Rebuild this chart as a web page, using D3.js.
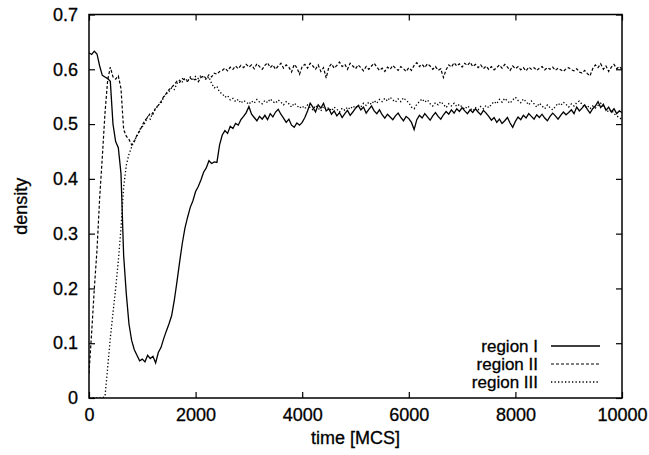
<!doctype html>
<html>
  <head>
    <script src="https://cdn.jsdelivr.net/npm/d3@7/dist/d3.min.js"></script>
    <style>
      body { margin: 0; background: #fff; }
      text { font-family: "Liberation Sans", Arial, Helvetica, sans-serif;
             font-size: 18px; fill: #000; stroke: #000; stroke-width: 0.3px; }
      .legend text { font-size: 17px; }
      .axis path { display: none; }
      .axis line { stroke: #000; stroke-width: 1.2; }
    </style>
  </head>
  <body>
    <div id="chart"></div>
    <script>
      // time steps (MCS), one sample every 50
      var step = 50;

      // region I (solid)
      var regionI = [
        0.630, 0.627, 0.633, 0.628, 0.606, 0.589, 0.586, 0.583, 0.578, 0.500,
        0.468, 0.457, 0.410, 0.260, 0.190, 0.135, 0.105, 0.088, 0.078, 0.068,
        0.071, 0.066, 0.078, 0.072, 0.076, 0.064, 0.083, 0.092, 0.108, 0.122,
        0.135, 0.150, 0.178, 0.212, 0.248, 0.282, 0.310, 0.330, 0.348, 0.360,
        0.377, 0.386, 0.398, 0.412, 0.420, 0.433, 0.428, 0.431, 0.430, 0.462,
        0.480, 0.488, 0.483, 0.496, 0.492, 0.501, 0.498, 0.508, 0.514, 0.521,
        0.532, 0.518, 0.512, 0.506, 0.514, 0.509, 0.516, 0.508, 0.519, 0.513,
        0.522, 0.527, 0.518, 0.511, 0.503, 0.509, 0.498, 0.494, 0.502, 0.498,
        0.503, 0.512, 0.524, 0.538, 0.531, 0.522, 0.535, 0.529, 0.538, 0.524,
        0.528, 0.518, 0.524, 0.515, 0.521, 0.512, 0.519, 0.525, 0.516, 0.522,
        0.529, 0.534, 0.526, 0.531, 0.520, 0.527, 0.533, 0.524, 0.519, 0.526,
        0.517, 0.511, 0.518, 0.513, 0.508, 0.515, 0.520, 0.512, 0.506, 0.514,
        0.510, 0.503, 0.490, 0.508, 0.516, 0.511, 0.519, 0.513, 0.507, 0.515,
        0.521, 0.514, 0.509, 0.517, 0.523, 0.518, 0.526, 0.520, 0.528, 0.523,
        0.530, 0.524, 0.519, 0.526, 0.521, 0.528, 0.522, 0.517, 0.525, 0.520,
        0.514, 0.507, 0.512, 0.503, 0.509, 0.501, 0.506, 0.512, 0.502, 0.494,
        0.505, 0.513, 0.508, 0.516, 0.511, 0.519, 0.514, 0.509, 0.517, 0.512,
        0.518, 0.511, 0.506, 0.514, 0.520, 0.515, 0.509, 0.516, 0.522, 0.517,
        0.521, 0.526, 0.519, 0.531, 0.524, 0.529, 0.535, 0.527, 0.520, 0.528,
        0.533, 0.541, 0.530, 0.536, 0.525, 0.531, 0.522, 0.528, 0.519, 0.524,
        0.521
      ];

      // region II (dashed)
      var regionII = [
        0.045, 0.120, 0.200, 0.270, 0.365, 0.440, 0.520, 0.580, 0.604, 0.586,
        0.582, 0.588, 0.565, 0.490, 0.478, 0.472, 0.462, 0.468, 0.480, 0.487,
        0.498, 0.507, 0.512, 0.520, 0.518, 0.530, 0.534, 0.541, 0.550, 0.556,
        0.563, 0.567, 0.572, 0.578, 0.576, 0.583, 0.580, 0.578, 0.584, 0.580,
        0.582, 0.577, 0.585, 0.588, 0.583, 0.590, 0.586, 0.593, 0.591, 0.596,
        0.598, 0.602, 0.597, 0.604, 0.600, 0.606, 0.601, 0.607, 0.603, 0.609,
        0.604, 0.608, 0.601, 0.610, 0.605, 0.600, 0.607, 0.612, 0.603, 0.608,
        0.600, 0.606, 0.611, 0.602, 0.608, 0.604, 0.595, 0.609, 0.603, 0.591,
        0.605, 0.609, 0.602, 0.611, 0.606, 0.600, 0.608, 0.596, 0.603, 0.584,
        0.604, 0.610, 0.602, 0.607, 0.613, 0.605, 0.609, 0.600, 0.611, 0.606,
        0.601, 0.608, 0.603, 0.597, 0.605, 0.600, 0.606, 0.611, 0.604, 0.598,
        0.602, 0.596, 0.604, 0.600, 0.607, 0.602, 0.598, 0.605, 0.601, 0.596,
        0.603, 0.598, 0.607, 0.612, 0.605, 0.609, 0.603, 0.610, 0.606, 0.600,
        0.605, 0.598, 0.601, 0.585, 0.599, 0.608, 0.604, 0.612, 0.606, 0.610,
        0.604, 0.611, 0.607, 0.613, 0.605, 0.609, 0.603, 0.608, 0.601, 0.606,
        0.600, 0.605, 0.599, 0.603, 0.608, 0.602, 0.609, 0.604, 0.598, 0.606,
        0.601, 0.605, 0.599, 0.603, 0.597, 0.604, 0.600, 0.603, 0.598, 0.602,
        0.605, 0.599, 0.603, 0.600, 0.604, 0.598, 0.602, 0.599, 0.596, 0.601,
        0.603, 0.599, 0.597, 0.601, 0.595, 0.593, 0.598, 0.592, 0.588, 0.601,
        0.608, 0.603, 0.610, 0.600, 0.606, 0.596, 0.604, 0.609, 0.601, 0.605,
        0.600
      ];

      // region III (dotted)
      var regionIII = [
        0.000, 0.000, 0.000, 0.000, 0.000, 0.000, 0.003, 0.055, 0.110, 0.155,
        0.200, 0.250, 0.310, 0.385, 0.425, 0.445, 0.458, 0.470, 0.478, 0.490,
        0.495, 0.502, 0.513, 0.509, 0.522, 0.527, 0.535, 0.538, 0.549, 0.555,
        0.559, 0.566, 0.563, 0.574, 0.580, 0.577, 0.584, 0.578, 0.586, 0.582,
        0.587, 0.583, 0.589, 0.585, 0.581, 0.586, 0.574, 0.566, 0.569, 0.558,
        0.556, 0.549, 0.552, 0.544, 0.547, 0.541, 0.545, 0.538, 0.543, 0.540,
        0.536, 0.542, 0.538, 0.545, 0.540, 0.537, 0.543, 0.539, 0.546, 0.541,
        0.538, 0.544, 0.540, 0.535, 0.541, 0.537, 0.531, 0.538, 0.534, 0.529,
        0.533, 0.528, 0.535, 0.530, 0.526, 0.534, 0.529, 0.524, 0.532, 0.527,
        0.530, 0.524, 0.531, 0.527, 0.522, 0.529, 0.525, 0.531, 0.527, 0.533,
        0.529, 0.535, 0.531, 0.538, 0.534, 0.540, 0.536, 0.543, 0.538, 0.545,
        0.541, 0.547, 0.542, 0.549, 0.544, 0.540, 0.546, 0.541, 0.548, 0.543,
        0.539, 0.531, 0.528, 0.536, 0.541, 0.546, 0.540, 0.544, 0.537, 0.533,
        0.539, 0.535, 0.541, 0.536, 0.530, 0.537, 0.533, 0.538, 0.532, 0.536,
        0.531, 0.527, 0.533, 0.529, 0.524, 0.530, 0.526, 0.532, 0.528, 0.534,
        0.530, 0.536, 0.541, 0.537, 0.545, 0.540, 0.547, 0.542, 0.538, 0.544,
        0.549, 0.543, 0.539, 0.546, 0.541, 0.535, 0.542, 0.537, 0.531, 0.538,
        0.533, 0.528, 0.535, 0.530, 0.526, 0.532, 0.538, 0.534, 0.540, 0.536,
        0.531, 0.537, 0.533, 0.539, 0.542, 0.536, 0.530, 0.534, 0.528, 0.533,
        0.529, 0.534, 0.538, 0.532, 0.527, 0.522, 0.526, 0.519, 0.515, 0.512,
        0.508
      ];

      var seriesNames = ["region I", "region II", "region III"];
      var xTicks = [0, 2000, 4000, 6000, 8000, 10000];
      var yTicks = [0, 0.1, 0.2, 0.3, 0.4, 0.5, 0.6, 0.7];
      var yTickLabels = ["0", "0.1", "0.2", "0.3", "0.4", "0.5", "0.6", "0.7"];

      var width = 649, height = 455;
      var plotLeft = 89, plotRight = 622, plotTop = 14.5, plotBottom = 398;

      var x = d3.scaleLinear().domain([0, 10000]).range([plotLeft, plotRight]);
      var y = d3.scaleLinear().domain([0, 0.7]).range([plotBottom, plotTop]);

      var svg = d3.select("#chart").append("svg")
        .attr("width", width)
        .attr("height", height);

      svg.append("clipPath").attr("id", "plot")
        .append("rect")
        .attr("x", plotLeft).attr("y", plotTop)
        .attr("width", plotRight - plotLeft).attr("height", plotBottom - plotTop);

      // axes, gnuplot style: ticks point inward on all four sides
      svg.append("g").attr("class", "axis")
        .attr("transform", "translate(0," + plotBottom + ")")
        .call(d3.axisBottom(x).tickValues(xTicks).tickFormat(d3.format("d"))
          .tickSizeInner(-6).tickSizeOuter(0).tickPadding(10));
      svg.append("g").attr("class", "axis")
        .attr("transform", "translate(0," + plotTop + ")")
        .call(d3.axisTop(x).tickValues(xTicks).tickFormat("")
          .tickSizeInner(-6).tickSizeOuter(0));
      svg.append("g").attr("class", "axis")
        .attr("transform", "translate(" + plotLeft + ",0)")
        .call(d3.axisLeft(y).tickValues(yTicks)
          .tickFormat(function(d, i) { return yTickLabels[i]; })
          .tickSizeInner(-6).tickSizeOuter(0).tickPadding(11));
      svg.append("g").attr("class", "axis")
        .attr("transform", "translate(" + plotRight + ",0)")
        .call(d3.axisRight(y).tickValues(yTicks).tickFormat("")
          .tickSizeInner(-6).tickSizeOuter(0));

      svg.selectAll(".axis text")
        .style("font-size", "18px")
        .attr("font-family", null);

      // the lines
      var styles = [
        { data: regionI, dash: null, w: 1.3 },
        { data: regionII, dash: "3,2", w: 1.2 },
        { data: regionIII, dash: "1.3,2.2", w: 1.3 }
      ];

      var line = d3.line()
        .x(function(d, i) { return x(i * step); })
        .y(function(d) { return y(d); });

      var g = svg.append("g").attr("clip-path", "url(#plot)");
      styles.forEach(function(s) {
        g.append("path")
          .attr("d", line(s.data))
          .attr("fill", "none")
          .attr("stroke", "#000")
          .attr("stroke-width", s.w)
          .attr("stroke-dasharray", s.dash);
      });

      // frame
      svg.append("rect")
        .attr("x", plotLeft).attr("y", plotTop)
        .attr("width", plotRight - plotLeft).attr("height", plotBottom - plotTop)
        .attr("fill", "none").attr("stroke", "#000").attr("stroke-width", 1.5);

      // legend
      var legend = svg.append("g").attr("class", "legend");
      seriesNames.forEach(function(name, i) {
        var ly = 346 + i * 18;
        legend.append("text")
          .attr("x", 538).attr("y", ly + 6)
          .attr("text-anchor", "end")
          .text(name);
        legend.append("line")
          .attr("x1", 551).attr("x2", 600)
          .attr("y1", ly).attr("y2", ly)
          .attr("stroke", "#000")
          .attr("stroke-width", styles[i].w)
          .attr("stroke-dasharray", styles[i].dash);
      });

      // axis titles
      svg.append("text")
        .attr("x", (plotLeft + plotRight) / 2).attr("y", 444)
        .attr("text-anchor", "middle")
        .text("time [MCS]");
      svg.append("text")
        .attr("transform", "translate(27," + ((plotTop + plotBottom) / 2) + ") rotate(-90)")
        .attr("text-anchor", "middle")
        .text("density");
    </script>
  </body>
</html>
